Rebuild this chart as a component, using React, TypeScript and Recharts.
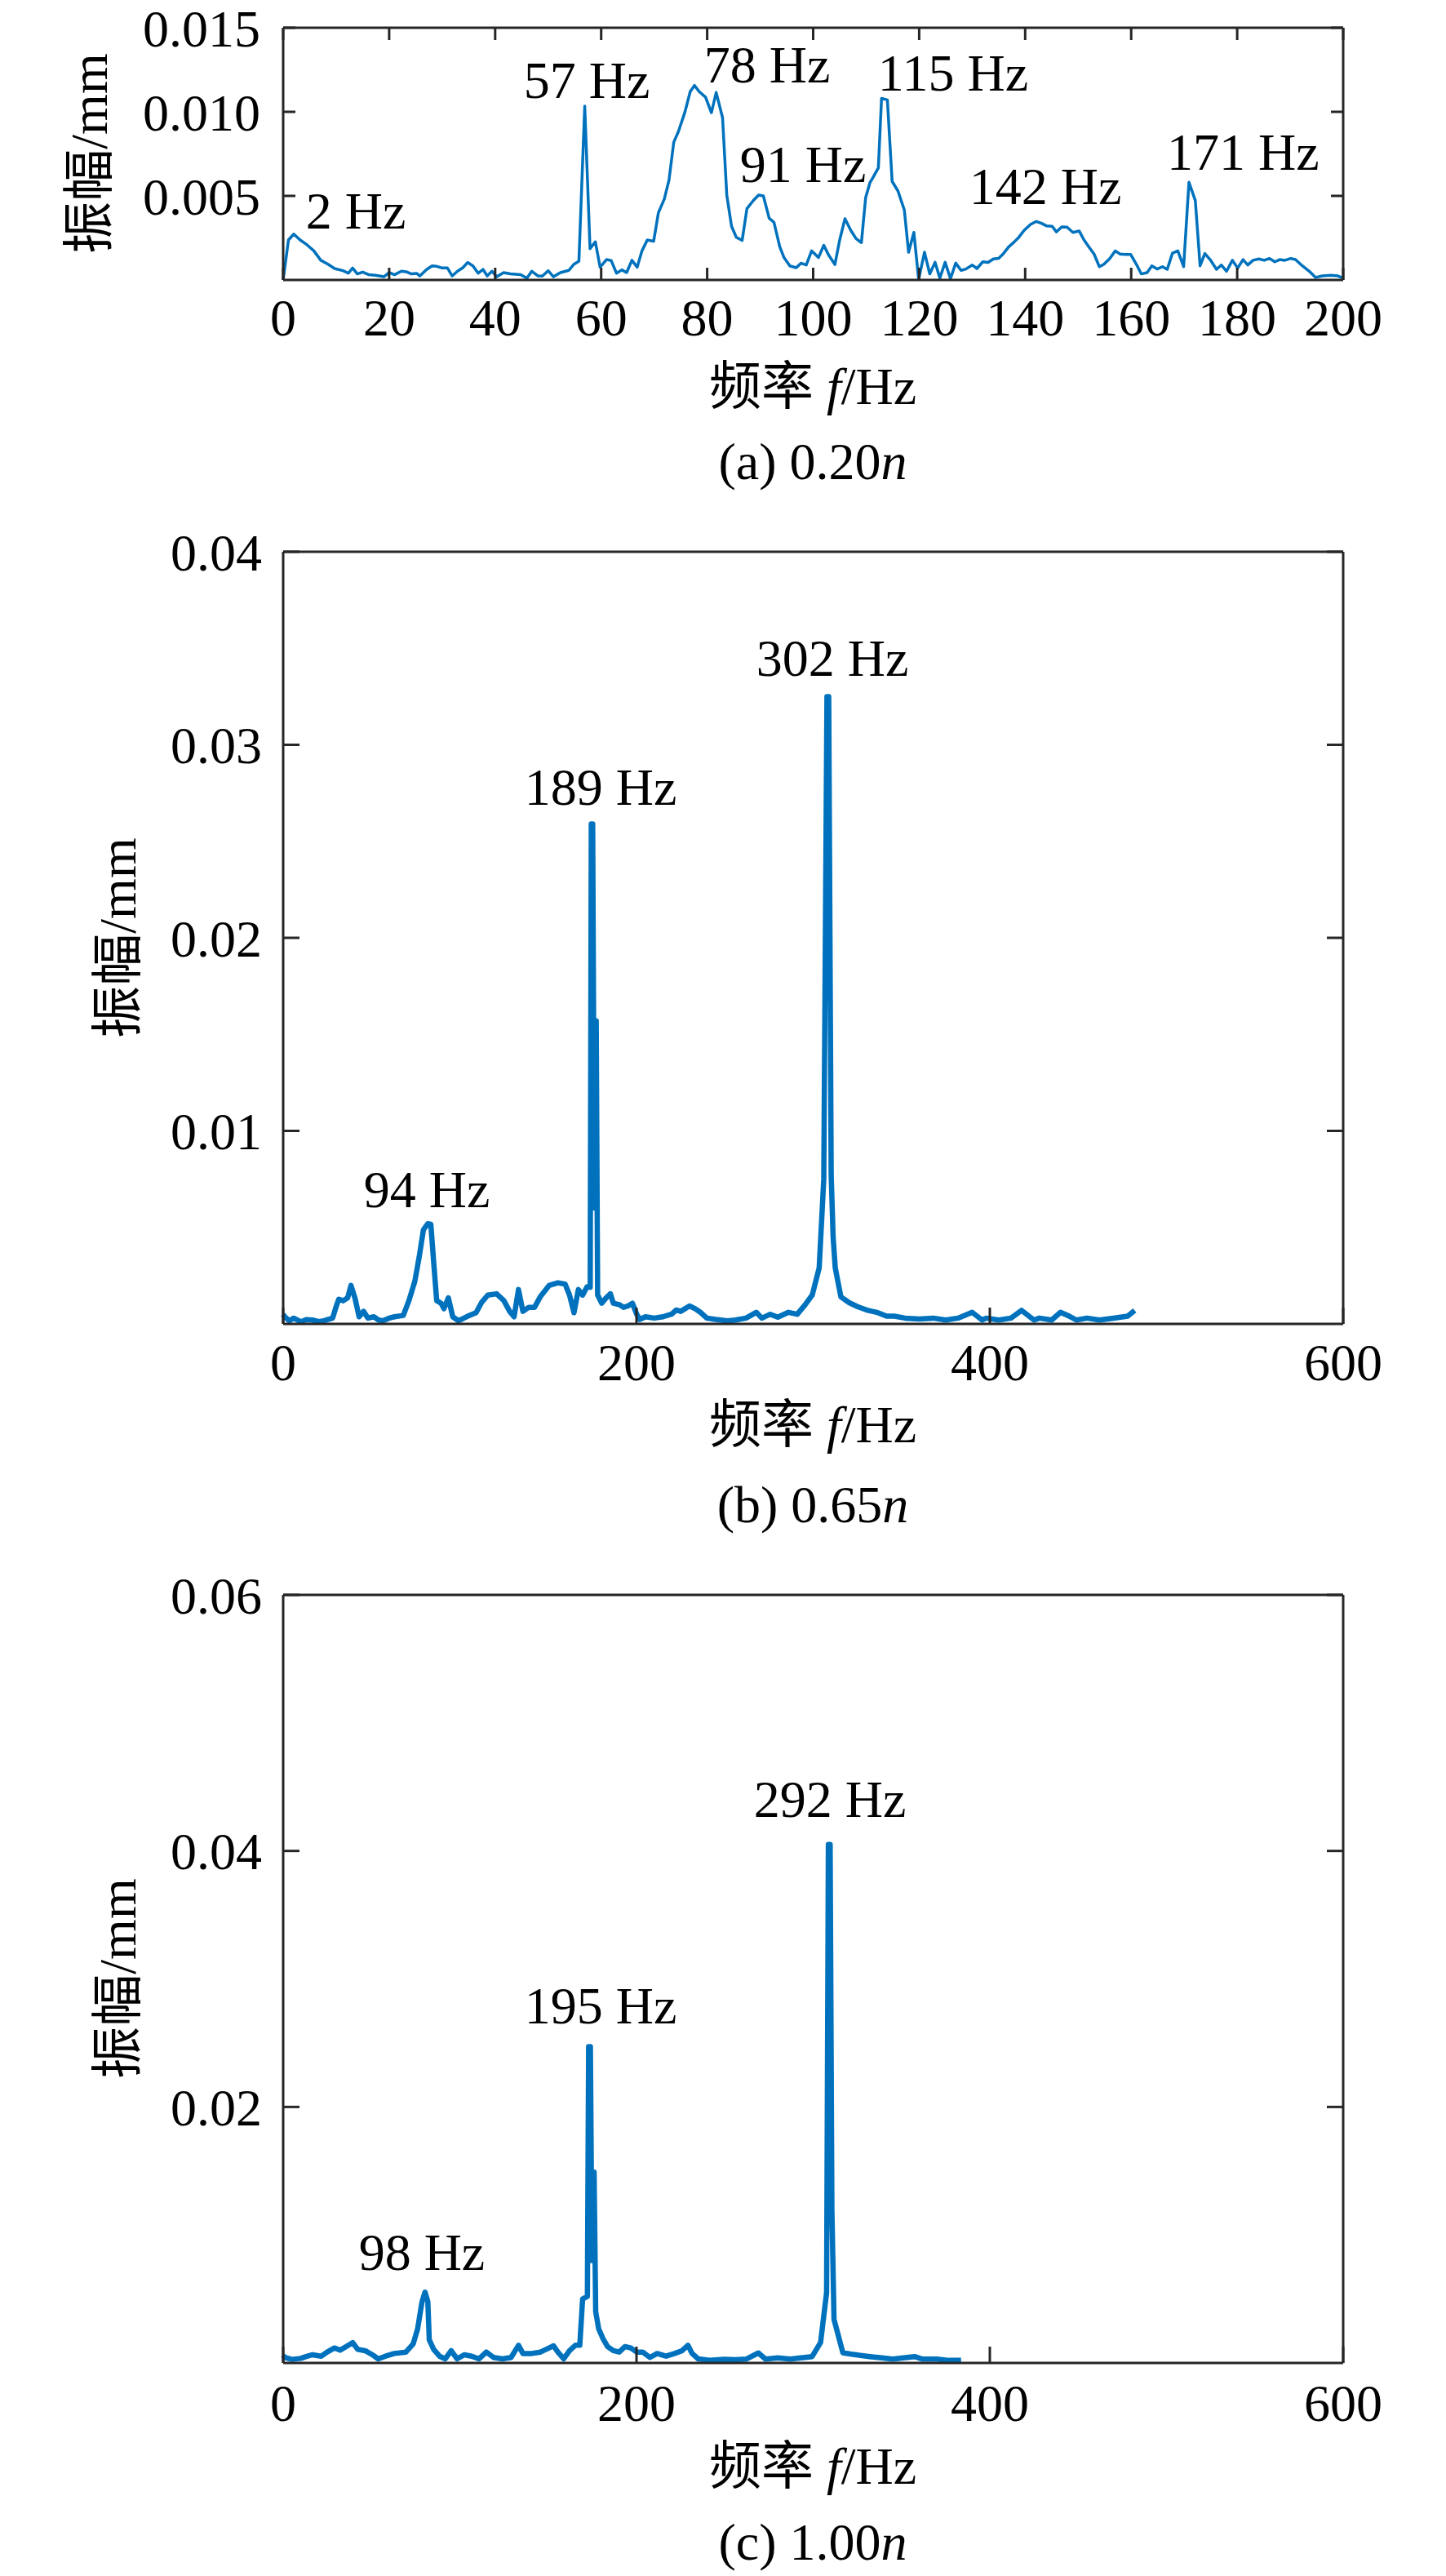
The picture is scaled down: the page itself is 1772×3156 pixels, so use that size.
import React from "react";
import { LineChart, Line, XAxis, YAxis, ReferenceDot } from "recharts";

const FONT = '"Liberation Serif", "Times New Roman", "Noto Sans CJK SC", serif';
const BLUE = "#0072BD";
const AXIS = "#262626";

// (a) 0.20n
const freqA = [
  0, 1, 2, 3.2, 4.5, 5.8, 7.1, 8.4, 9.7, 11.3, 12.3, 13.1, 14, 15, 16.1, 17.4, 19, 20, 21, 22.3,
  23.2, 24.2, 25.2, 25.8, 27.1, 28.1, 29, 30, 31, 31.9, 32.9, 33.9, 34.8, 35.8, 36.8, 37.7, 38.5,
  39.4, 40.3, 41.6, 42.9, 44.8, 46, 46.9, 48.1, 48.9, 50, 51, 52.3, 53.9, 54.8, 55.8, 56.9, 57.9,
  58.9, 59.8, 61, 61.9, 62.9, 63.9, 64.8, 65.8, 66.8, 67.7, 68.7, 69.9, 70.8, 71.9, 72.8, 73.7,
  74.6, 75.8, 76.8, 77.6, 78.5, 79.7, 80.8, 81.7, 82.9, 83.7, 84.6, 85.5, 86.6, 87.5, 88.7, 89.7,
  90.6, 91.7, 92.6, 93.7, 94.5, 95.6, 96.8, 97.7, 98.7, 99.7, 101, 102, 102.9, 104.1, 105, 106,
  107.1, 108.1, 109.1, 109.9, 110.7, 111.3, 112.3, 112.9, 114, 114.9, 116, 117.2, 118, 119, 119.9,
  121, 122, 123, 123.9, 124.9, 125.9, 126.9, 127.9, 128.8, 130, 130.9, 132, 133, 134, 135, 135.9,
  136.9, 137.9, 138.8, 139.8, 141, 142.1, 143, 144, 145.1, 145.9, 146.9, 147.9, 149, 150.2, 151.1,
  152.1, 153, 154, 154.8, 155.9, 157, 157.9, 158.9, 159.9, 161, 161.9, 163, 163.9, 164.9, 165.9,
  166.8, 167.8, 168.8, 169.9, 170.9, 172.1, 173, 173.9, 174.9, 176.1, 177, 178, 179.1, 180.1,
  181.1, 182, 183, 184.1, 185.1, 186.1, 187.1, 188, 189, 190.1, 191, 192.3, 193.6, 194.8, 196.1,
  197.7, 199, 200,
];
const ampA = [
  0, 0.00238, 0.00273, 0.00238, 0.00209, 0.00173, 0.00117, 0.00095, 0.00068, 0.00055, 0.0004,
  0.00071, 0.00036, 0.00047, 0.00032, 0.00028, 0.00019, 0.00044, 0.00031, 0.00052, 0.00049,
  0.00036, 0.00039, 0.00024, 0.00063, 0.00084, 0.00081, 0.00071, 0.00071, 0.00024, 0.00052,
  0.00073, 0.00104, 0.00084, 0.0004, 0.00063, 0.00024, 0.00052, 0.00019, 0.00044, 0.00036,
  0.00032, 0.00011, 0.00052, 0.00024, 0.00023, 0.00055, 0.00019, 0.00044, 0.00057, 0.00092,
  0.00112, 0.01034, 0.00186, 0.00227, 0.00076, 0.00121, 0.00115, 0.0004, 0.0006, 0.00044,
  0.00117, 0.00076, 0.00173, 0.00238, 0.0023, 0.004, 0.0048, 0.00594, 0.0082, 0.00885, 0.00998,
  0.0112, 0.01157, 0.0112, 0.01087, 0.00995, 0.01115, 0.00966, 0.00505, 0.00319, 0.00254,
  0.00235, 0.00424, 0.00472, 0.00505, 0.005, 0.00367, 0.00343, 0.00197, 0.00133, 0.00084,
  0.00073, 0.001, 0.00089, 0.00173, 0.00133, 0.00206, 0.00149, 0.00092, 0.00238, 0.00364,
  0.00295, 0.00246, 0.00222, 0.00489, 0.00578, 0.0061, 0.00667, 0.0108, 0.01071, 0.00586,
  0.00529, 0.00416, 0.00165, 0.00283, 0.00003, 0.00165, 0.00036, 0.00105, 0.00011, 0.00105,
  0.00008, 0.001, 0.00057, 0.00065, 0.00089, 0.00068, 0.00108, 0.00104, 0.00125, 0.00129,
  0.00157, 0.00197, 0.00225, 0.00254, 0.00295, 0.0033, 0.00348, 0.00338, 0.00322, 0.00319,
  0.00286, 0.00316, 0.00314, 0.00283, 0.00291, 0.00238, 0.00193, 0.00154, 0.00079, 0.00092,
  0.00125, 0.00173, 0.00154, 0.00152, 0.00152, 0.00092, 0.00036, 0.00044, 0.00084, 0.00065,
  0.00079, 0.00063, 0.0016, 0.00173, 0.00079, 0.00581, 0.00473, 0.00084, 0.00157, 0.00121,
  0.00063, 0.00089, 0.00052, 0.00117, 0.00071, 0.00121, 0.00089, 0.00117, 0.00125, 0.00117,
  0.00128, 0.00108, 0.00121, 0.00117, 0.00128, 0.00121, 0.00084, 0.00052, 0.00015, 0.00024,
  0.00028, 0.00024, 0.00011,
];
const xTicksA = [0, 20, 40, 60, 80, 100, 120, 140, 160, 180, 200];
const yTicksA = [0.005, 0.01, 0.015];
const notesA = [
  { text: "2 Hz", f: 13.7, a: 0.00417 },
  { text: "57 Hz", f: 57.3, a: 0.01194 },
  { text: "78 Hz", f: 91.3, a: 0.01286 },
  { text: "91 Hz", f: 98.1, a: 0.00694 },
  { text: "115 Hz", f: 126.4, a: 0.01238 },
  { text: "142 Hz", f: 143.8, a: 0.00563 },
  { text: "171 Hz", f: 181.1, a: 0.00767 },
];

// (b) 0.65n
const freqB = [
  0, 0.9, 3.4, 6, 10, 13, 16.6, 20, 23, 28, 30, 31.5, 34, 36.5, 38.4, 40.6, 43, 45.5, 48, 51.3, 54,
  56.3, 60, 63, 68, 71.2, 74.5, 77, 79.4, 81.9, 83.6, 85.2, 86.9, 89.4, 91, 93.5, 96, 99.3, 104.2,
  109.2, 112.5, 115.8, 120.8, 124.9, 128.2, 130.7, 133.2, 135.7, 139, 142.3, 145.6, 150.5, 155.5,
  159.6, 162.1, 164.6, 167.1, 169.5, 172, 173.8, 174.4, 175.2, 176.2, 177.2, 178, 180.3, 182.8,
  185.2, 186.9, 190.2, 192.7, 195.2, 197.7, 200.1, 201.8, 205.1, 210, 215, 220, 222.5, 225, 230,
  233.2, 236.5, 239.8, 244.8, 251.4, 256, 262, 267.8, 271, 275.7, 280, 286, 291, 295.5, 299.5,
  303.4, 306, 307.8, 308.8, 310.2, 311.3, 312.5, 315.7, 320.4, 325, 331, 336, 341.6, 346, 352, 360,
  368, 375, 382, 390, 395.6, 398, 405, 412, 418, 425, 428, 435, 440, 445, 449, 455, 462, 470, 478,
  482, 485,
];
const ampB = [
  0.0005, 0.00037, 0.00016, 0.0003, 0.00011, 0.00022, 0.0002, 0.00012, 0.00016, 0.0003, 0.0009,
  0.00128, 0.0012, 0.00135, 0.00199, 0.00135, 0.00037, 0.00065, 0.0003, 0.00037, 0.0002, 0.00016,
  0.0003, 0.00037, 0.00044, 0.00121, 0.0022, 0.00347, 0.00488, 0.00519, 0.00516, 0.00319, 0.00121,
  0.00107, 0.00079, 0.00135, 0.00037, 0.00016, 0.00039, 0.00058, 0.00114, 0.00149, 0.00156,
  0.00121, 0.00065, 0.00037, 0.00178, 0.00065, 0.00086, 0.00086, 0.00142, 0.00199, 0.00213,
  0.00206, 0.00149, 0.00058, 0.00178, 0.00149, 0.00192, 0.0019, 0.0259, 0.0259, 0.006, 0.0157,
  0.0015, 0.00107, 0.00135, 0.00156, 0.00107, 0.001, 0.00086, 0.00093, 0.00107, 0.00051, 0.00023,
  0.00037, 0.0003, 0.00037, 0.00051, 0.00072, 0.00065, 0.00093, 0.00079, 0.00058, 0.0003, 0.00023,
  0.00016, 0.0002, 0.0003, 0.0006, 0.0003, 0.0005, 0.00035, 0.0006, 0.0005, 0.001, 0.0015, 0.0029,
  0.0075, 0.0325, 0.0325, 0.0077, 0.0045, 0.0029, 0.0014, 0.0011, 0.0009, 0.0007, 0.0006, 0.0004,
  0.0004, 0.0003, 0.00025, 0.0003, 0.0002, 0.0003, 0.0006, 0.0002, 0.0003, 0.0002, 0.0003, 0.0007,
  0.0002, 0.0003, 0.0002, 0.0006, 0.0004, 0.0002, 0.0003, 0.0002, 0.0003, 0.0004, 0.0007,
];
const xTicksBC = [0, 200, 400, 600];
const yTicksB = [0.01, 0.02, 0.03, 0.04];
const notesB = [
  { text: "94 Hz", f: 81.3, a: 0.00702 },
  { text: "189 Hz", f: 179.7, a: 0.02786 },
  { text: "302 Hz", f: 310.9, a: 0.03454 },
];

// (c) 1.00n
const freqC = [
  0, 0.9, 5, 10, 13, 16.6, 21.6, 24.9, 29, 32.3, 35.6, 39.4, 42.2, 46.4, 50.5, 53.8, 57.9, 62.9,
  69.5, 73.6, 76.1, 78.6, 80.3, 81.9, 82.7, 85.2, 88.5, 91.8, 95.1, 98.4, 102.6, 106.7, 110.9, 115,
  119.1, 124.1, 129, 133.2, 135.7, 140.6, 145.6, 150.5, 153, 155.5, 158.8, 162.1, 165.4, 167.9,
  169.5, 172.2, 172.9, 173.9, 174.8, 176, 176.9, 178.6, 181, 183.6, 186.9, 190.2, 193.5, 196.8,
  200.1, 203.5, 207.6, 211.7, 216.7, 221.6, 225.8, 229.1, 231.5, 234.9, 241.5, 249.7, 256, 262,
  269, 273, 280, 287, 293, 299.4, 304.2, 307.6, 308.6, 309.6, 310.6, 311.8, 316.8, 321, 326, 332,
  339, 345, 351, 357.4, 362, 370, 377, 383.7,
];
const ampC = [
  0.0006, 0.00043, 0.00028, 0.00036, 0.0005, 0.00064, 0.00053, 0.00085, 0.00117, 0.001, 0.00128,
  0.00159, 0.00106, 0.00096, 0.00064, 0.00032, 0.00053, 0.00074, 0.00085, 0.00149, 0.00266,
  0.00478, 0.00553, 0.00478, 0.00181, 0.00106, 0.00053, 0.00032, 0.00096, 0.00032, 0.00064,
  0.00053, 0.00032, 0.00085, 0.00043, 0.00032, 0.00043, 0.00138, 0.00074, 0.00074, 0.00085,
  0.00117, 0.00134, 0.00085, 0.00032, 0.00096, 0.00138, 0.00138, 0.005, 0.0052, 0.0247, 0.0247,
  0.008, 0.0149, 0.004, 0.00266, 0.00191, 0.00128, 0.00096, 0.00085, 0.00128, 0.00117, 0.00085,
  0.00085, 0.00043, 0.00074, 0.00053, 0.00074, 0.00096, 0.00138, 0.00074, 0.00032, 0.00021,
  0.00028, 0.00025, 0.0003, 0.00078, 0.0003, 0.0004, 0.0003, 0.0004, 0.0005, 0.0016, 0.0055,
  0.0405, 0.0405, 0.012, 0.0034, 0.0008, 0.0007, 0.0006, 0.0005, 0.0004, 0.0003, 0.0004, 0.0005,
  0.0003, 0.0003, 0.0002, 0.0002,
];
const yTicksC = [0.02, 0.04, 0.06];
const notesC = [
  { text: "98 Hz", f: 78.5, a: 0.00874 },
  { text: "195 Hz", f: 179.7, a: 0.028 },
  { text: "292 Hz", f: 309.5, a: 0.0441 },
];

const toRows = (freq: number[], amp: number[]) => freq.map((f, i) => ({ f, a: amp[i] }));

const Y_AXIS_W = 100;
const X_AXIS_H = 60;

type Note = { text: string; f: number; a: number };

type PanelProps = {
  top: number;
  height: number;
  margin: { top: number; right: number; bottom: number; left: number };
  freq: number[];
  amp: number[];
  xMax: number;
  yMax: number;
  xTicks: number[];
  yTicks: number[];
  digits: number;
  lineWidth: number;
  tickLen: number;
  topTicks: boolean;
  xGap: number;
  yGap: number;
  notes: Note[];
};

// bottom tick: label below the axis, tick mark pointing up into the plot (and a matching one on the top frame)
const BottomTick = ({ x, y, payload, gap, len, plotH, topTicks }: any) => {
  const axisY = y - gap;
  return (
    <g>
      <line x1={x} x2={x} y1={axisY} y2={axisY - len} stroke={AXIS} strokeWidth={3} />
      {topTicks && <line x1={x} x2={x} y1={axisY - plotH} y2={axisY - plotH + len} stroke={AXIS} strokeWidth={3} />}
      <text x={x} y={y} dy="0.71em" textAnchor="middle" fill="#000" fontSize={64} fontFamily={FONT}>
        {payload.value}
      </text>
    </g>
  );
};

// left tick: label left of the axis, tick marks pointing in from both the left and right frame
const LeftTick = ({ x, y, payload, gap, len, plotW, digits }: any) => {
  const axisX = x + gap;
  return (
    <g>
      <line x1={axisX} x2={axisX + len} y1={y} y2={y} stroke={AXIS} strokeWidth={3} />
      <line x1={axisX + plotW - len} x2={axisX + plotW} y1={y} y2={y} stroke={AXIS} strokeWidth={3} />
      <text x={x} y={y} dy="0.355em" textAnchor="end" fill="#000" fontSize={64} fontFamily={FONT}>
        {Number(payload.value).toFixed(digits)}
      </text>
    </g>
  );
};

const Panel = (p: PanelProps) => {
  const plotW = 1772 - p.margin.left - p.margin.right - Y_AXIS_W;
  const plotH = p.height - p.margin.top - p.margin.bottom - X_AXIS_H;
  return (
    <div style={{ position: "absolute", left: 0, top: p.top, width: 1772, height: p.height }}>
      <LineChart width={1772} height={p.height} data={toRows(p.freq, p.amp)} margin={p.margin}>
        <XAxis
          dataKey="f"
          type="number"
          domain={[0, p.xMax]}
          ticks={p.xTicks}
          interval={0}
          height={X_AXIS_H}
          tickLine={false}
          tickSize={0}
          tickMargin={p.xGap}
          stroke={AXIS}
          strokeWidth={3}
          tick={(t: any) => (
            <BottomTick {...t} gap={p.xGap} len={p.tickLen} plotH={plotH} topTicks={p.topTicks} />
          )}
        />
        <XAxis
          xAxisId="top"
          orientation="top"
          mirror
          type="number"
          domain={[0, p.xMax]}
          tick={false}
          tickLine={false}
          stroke={AXIS}
          strokeWidth={3}
        />
        <YAxis
          type="number"
          domain={[0, p.yMax]}
          ticks={p.yTicks}
          interval={0}
          width={Y_AXIS_W}
          tickLine={false}
          tickSize={0}
          tickMargin={p.yGap}
          stroke={AXIS}
          strokeWidth={3}
          tick={(t: any) => (
            <LeftTick {...t} gap={p.yGap} len={p.tickLen} plotW={plotW} digits={p.digits} />
          )}
        />
        <YAxis
          yAxisId="right"
          orientation="right"
          mirror
          type="number"
          domain={[0, p.yMax]}
          tick={false}
          tickLine={false}
          stroke={AXIS}
          strokeWidth={3}
        />
        <Line
          dataKey="a"
          type="linear"
          stroke={BLUE}
          strokeWidth={p.lineWidth}
          strokeLinejoin="round"
          dot={false}
          isAnimationActive={false}
        />
        {p.notes.map((n) => (
          <ReferenceDot
            key={n.text}
            x={n.f}
            y={n.a}
            r={1}
            fill="none"
            stroke="none"
            label={{ value: n.text, position: "center", fill: "#000", fontSize: 64, fontFamily: FONT }}
          />
        ))}
      </LineChart>
    </div>
  );
};

const Caption = ({ x, y, rotate, children }: { x: number; y: number; rotate?: boolean; children: React.ReactNode }) => (
  <div
    style={{
      position: "absolute",
      left: x,
      top: y,
      transform: `translate(-50%, -50%)${rotate ? " rotate(-90deg)" : ""}`,
      fontFamily: FONT,
      fontSize: 64,
      lineHeight: 1,
      whiteSpace: "nowrap",
      color: "#000",
    }}
  >
    {children}
  </div>
);

const XTitle = () => (
  <>
    频率 <i>f</i>/Hz
  </>
);

export default function App() {
  return (
    <div style={{ position: "absolute", left: 0, top: 0, width: 1772, height: 3156, background: "#fff", overflow: "hidden" }}>
      <Panel
        top={0}
        height={600}
        margin={{ top: 34, right: 126, bottom: 197, left: 247 }}
        freq={freqA}
        amp={ampA}
        xMax={200}
        yMax={0.015}
        xTicks={xTicksA}
        yTicks={yTicksA}
        digits={3}
        lineWidth={3.5}
        tickLen={15}
        topTicks={true}
        xGap={23}
        yGap={28}
        notes={notesA}
      />
      <Panel
        top={640}
        height={1100}
        margin={{ top: 36, right: 126, bottom: 58, left: 247 }}
        freq={freqB}
        amp={ampB}
        xMax={600}
        yMax={0.04}
        xTicks={xTicksBC}
        yTicks={yTicksB}
        digits={2}
        lineWidth={6.5}
        tickLen={20}
        topTicks={false}
        xGap={24}
        yGap={26}
        notes={notesB}
      />
      <Panel
        top={1900}
        height={1100}
        margin={{ top: 54, right: 126, bottom: 45, left: 247 }}
        freq={freqC}
        amp={ampC}
        xMax={600}
        yMax={0.06}
        xTicks={xTicksBC}
        yTicks={yTicksC}
        digits={2}
        lineWidth={6.5}
        tickLen={20}
        topTicks={false}
        xGap={26}
        yGap={26}
        notes={notesC}
      />

      <Caption x={110} y={188} rotate>振幅/mm</Caption>
      <Caption x={996} y={474}><XTitle /></Caption>
      <Caption x={996} y={566}>(a) 0.20<i>n</i></Caption>

      <Caption x={145} y={1149} rotate>振幅/mm</Caption>
      <Caption x={996} y={1746}><XTitle /></Caption>
      <Caption x={996} y={1844}>(b) 0.65<i>n</i></Caption>

      <Caption x={145} y={2424} rotate>振幅/mm</Caption>
      <Caption x={996} y={3022}><XTitle /></Caption>
      <Caption x={996} y={3115}>(c) 1.00<i>n</i></Caption>
    </div>
  );
}
